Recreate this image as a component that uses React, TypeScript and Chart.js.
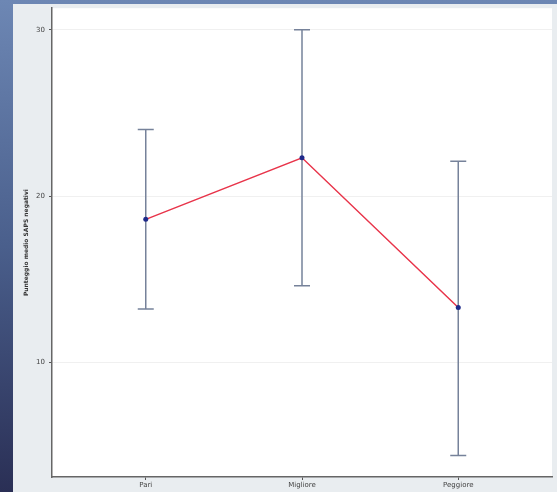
import React, { useEffect, useRef } from "react";
import { Chart, registerables } from "chart.js";

Chart.register(...registerables);

const categories = ["Pari", "Migliore", "Peggiore"];
const means = [18.6, 22.3, 13.3];
const upper = [24.0, 30.0, 22.1];
const lower = [13.2, 14.6, 4.4];
const yTicks = [10, 20, 30];
const yTitle = "Punteggio medio SAPS negativi";

const errorBarPlugin = {
  id: "errorBars",
  beforeDraw(chart: any) {
    const { ctx, chartArea } = chart;
    ctx.save();
    ctx.fillStyle = "#ffffff";
    ctx.fillRect(chartArea.left, chartArea.top, chartArea.right - chartArea.left, chartArea.bottom - chartArea.top);
    ctx.restore();
  },
  afterDatasetsDraw(chart: any) {
    const { ctx, scales } = chart;
    const xs = scales.x;
    const ys = scales.y;
    ctx.save();
    ctx.strokeStyle = "#76829a";
    ctx.lineWidth = 1.5;
    categories.forEach((_, i) => {
      const x = xs.getPixelForValue(i + 1);
      const yt = ys.getPixelForValue(upper[i]);
      const yb = ys.getPixelForValue(lower[i]);
      ctx.beginPath();
      ctx.moveTo(x, yt);
      ctx.lineTo(x, yb);
      ctx.moveTo(x - 8, yt);
      ctx.lineTo(x + 8, yt);
      ctx.moveTo(x - 8, yb);
      ctx.lineTo(x + 8, yb);
      ctx.stroke();
    });
    ctx.fillStyle = "#1f2a8a";
    categories.forEach((_, i) => {
      const x = xs.getPixelForValue(i + 1);
      const y = ys.getPixelForValue(means[i]);
      ctx.beginPath();
      ctx.arc(x, y, 2.5, 0, Math.PI * 2);
      ctx.fill();
    });
    ctx.restore();
  },
};

export default function App() {
  const ref = useRef<HTMLCanvasElement>(null);
  useEffect(() => {
    document.body.style.margin = "0";
    const chart = new Chart(ref.current!, {
      type: "line",
      data: {
        datasets: [
          {
            data: means.map((m, i) => ({ x: i + 1, y: m })),
            borderColor: "#e8344a",
            borderWidth: 1.5,
            pointRadius: 0,
            tension: 0,
          },
        ],
      },
      options: {
        animation: false,
        responsive: false,
        layout: { padding: { left: 23, top: 7, right: 5, bottom: 0 } },
        plugins: { legend: { display: false }, tooltip: { enabled: false } },
        scales: {
          x: {
            type: "linear",
            min: 0.4,
            max: 3.6,
            afterBuildTicks: (s: any) => {
              s.ticks = categories.map((_, i) => ({ value: i + 1 }));
            },
            afterFit: (s: any) => {
              s.height = 15;
            },
            grid: { drawOnChartArea: false, tickLength: 3, tickColor: "#555" },
            border: { color: "#666", width: 1.5 },
            ticks: {
              padding: 1,
              color: "#444",
              font: { size: 7, family: "DejaVu Sans" },
              callback: (v: any) => categories[Math.round(v) - 1] ?? "",
            },
          },
          y: {
            min: 3.1,
            max: 31.3,
            afterBuildTicks: (s: any) => {
              s.ticks = yTicks.map((v) => ({ value: v }));
            },
            afterFit: (s: any) => {
              s.width = 29;
            },
            grid: { color: "rgba(0,0,0,0.06)", tickLength: 3, tickColor: "#555" },
            border: { color: "#666", width: 1.5 },
            title: {
              display: true,
              text: yTitle,
              color: "#333",
              padding: { top: 0, bottom: 2 },
              font: { size: 6, family: "DejaVu Sans", weight: "bold" },
            },
            ticks: {
              padding: 4,
              color: "#444",
              font: { size: 7, family: "DejaVu Sans" },
            },
          },
        },
      },
      plugins: [errorBarPlugin],
    } as any);
    return () => chart.destroy();
  }, []);
  return (
    <div
      style={{
        position: "absolute",
        left: 0,
        top: 0,
        width: 557,
        height: 492,
        background: "linear-gradient(180deg, #6d87b4 0%, #4a5f8c 50%, #2a2f55 100%)",
        overflow: "hidden",
      }}
    >
      <div
        style={{
          position: "absolute",
          left: 13,
          top: 4,
          width: 544,
          height: 488,
          background: "#e9edf0",
        }}
      />
      <canvas ref={ref} width={557} height={492} style={{ position: "absolute", left: 0, top: 0 }} />
    </div>
  );
}
